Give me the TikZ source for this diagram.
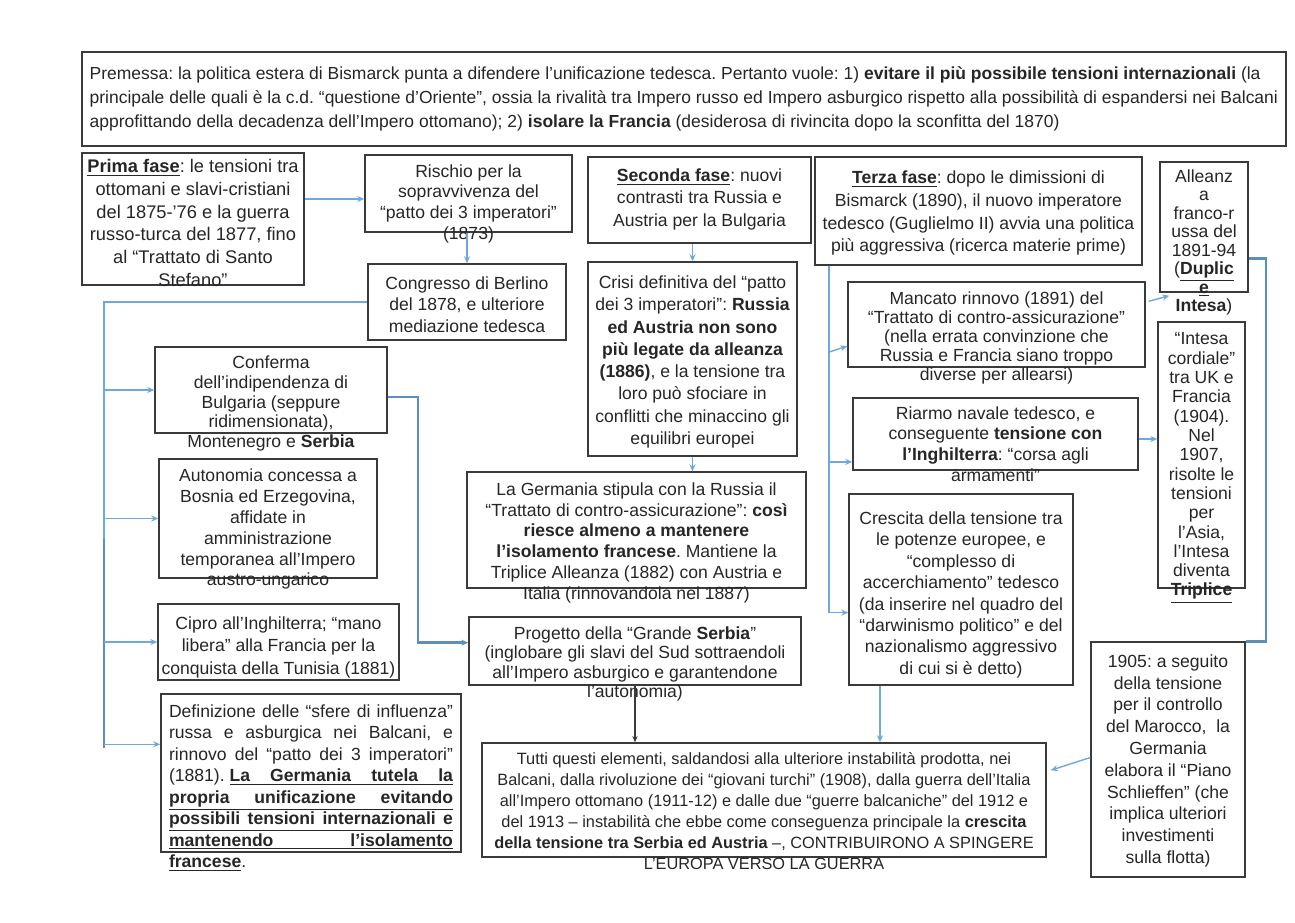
\documentclass[tikz,border=0pt]{standalone}
\usepackage{fontspec}
\setmainfont{Liberation Sans}
\frenchspacing
\usetikzlibrary{arrows.meta, positioning, calc, fit}
\definecolor{linkblue}{HTML}{6FA8DC}
\definecolor{edgegray}{HTML}{3A3A3A}
\definecolor{ink}{HTML}{262626}
\newlength{\prefw}
\newcommand{\ulbf}[1]{\underline{\textbf{#1}}}
\newcommand{\ulspread}[2]{\underline{\makebox[#1][s]{\bfseries #2}}}

\begin{document}
\begin{tikzpicture}[x=0.02cm, y=-0.02cm,
	panel/.style={draw=edgegray, line width=0.8pt, inner sep=0pt},
	txt/.style={align=center, inner sep=0pt, text=ink, font=\fontsize{10}{#1}\selectfont},
	txt/.default=12,
	link/.style={-{Stealth[length=4pt,width=3.4pt]}, draw=linkblue, line width=0.8pt},
	wire/.style={draw=linkblue, line width=0.8pt},
	heavy/.style={draw=linkblue!85!black, line width=1.5pt},
	plain/.style={-{Stealth[length=3.5pt,width=3pt]}, draw=edgegray, line width=0.6pt}
]

\fill[white] (0,0) rectangle (1295,923);

% Boxes
\node[panel, fit={(82,52) (1286,146)}] (premessa) {};
\node[panel, fit={(82,153) (304,285)}] (prima) {};
\node[panel, fit={(365,155) (572,232)}] (rischio) {};
\node[panel, fit={(368,264) (566,340)}] (congresso) {};
\node[panel, fit={(588,157) (811,243)}] (seconda) {};
\node[panel, fit={(815,157) (1142,265)}] (terza) {};
\node[panel, fit={(1160,162) (1248,292)}] (alleanza) {};
\node[panel, fit={(588,262) (797,456)}] (crisi) {};
\node[panel, fit={(848,282) (1145,367)}] (mancato) {};
\node[panel, fit={(1158,322) (1245,588)}] (intesa) {};
\node[panel, fit={(155,347) (387,433)}] (conferma) {};
\node[panel, fit={(853,398) (1138,470)}] (riarmo) {};
\node[panel, fit={(159,459) (377,578)}] (autonomia) {};
\node[panel, fit={(467,472) (806,588)}] (germania) {};
\node[panel, fit={(849,494) (1073,685)}] (crescita) {};
\node[panel, fit={(158,604) (399,680)}] (cipro) {};
\node[panel, fit={(469,617) (801,685)}] (progetto) {};
\node[panel, fit={(1091,642) (1245,877)}] (marocco) {};
\node[panel, fit={(161,694) (461,852)}] (sfere) {};
\node[panel, fit={(482,743) (1046,857)}] (tutti) {};

% Texts
\node[txt, align=left, anchor=north west, font=\fontsize{9.95}{13.6}\selectfont] (premessaT) at ($(premessa.north west)+(8,15)$)
	{Premessa: la politica estera di Bismarck punta a difendere l’unificazione tedesca. Pertanto vuole: 1) {\bfseries evitare il più possibile tensioni internazionali} (la\\
	principale delle quali è la c.d. “questione d’Oriente”, ossia la rivalità tra Impero russo ed Impero asburgico rispetto alla possibilità di espandersi nei Balcani\\
	approfittando della decadenza dell’Impero ottomano); 2) {\bfseries isolare la Francia} (desiderosa di rivincita dopo la sconfitta del 1870)};
\node[txt, anchor=north, font=\fontsize{10.4}{12.9}\selectfont] (primaT) at ($(prima.north)+(0,7)$)
	{\ulbf{Prima fase}: le tensioni tra\\ottomani e slavi-cristiani\\del 1875-’76 e la guerra\\russo-turca del 1877, fino\\al “Trattato di Santo\\Stefano”};
\node[txt=11.7, anchor=north] (rischioT) at ($(rischio.north)+(0,10)$)
	{Rischio per la\\sopravvivenza del\\“patto dei 3 imperatori”\\(1873)};
\node[txt=12.2, anchor=north] (congressoT) at ($(congresso.north)+(0,13)$)
	{Congresso di Berlino\\del 1878, e ulteriore\\mediazione tedesca};
\node[txt=12.8, anchor=north] (secondaT) at ($(seconda.north)+(0,12)$)
	{\ulbf{Seconda fase}: nuovi\\contrasti tra Russia e\\Austria per la Bulgaria};
\node[txt=13, anchor=north] (terzaT) at ($(terza.north)+(0,14)$)
	{\ulbf{Terza fase}: dopo le dimissioni di\\Bismarck (1890), il nuovo imperatore\\tedesco (Guglielmo II) avvia una politica\\più aggressiva (ricerca materie prime)};
\node[txt=10.5, anchor=north] (alleanzaT) at ($(alleanza.north)+(0,8)$)
	{Alleanz\\a\\franco-r\\ussa del\\1891-94\\(\ulbf{Duplic}\\\ulbf{e}\\{\bfseries Intesa})};
\node[txt=12.7, anchor=north] (crisiT) at ($(crisi.north)+(0,14)$)
	{Crisi definitiva del “patto\\dei 3 imperatori”: {\bfseries Russia}\\{\bfseries ed Austria non sono}\\{\bfseries più legate da alleanza}\\{\bfseries (1886)}, e la tensione tra\\loro può sfociare in\\conflitti che minaccino gli\\equilibri europei};
\node[txt=10.8, anchor=north] (mancatoT) at ($(mancato.north)+(0,10)$)
	{Mancato rinnovo (1891) del\\“Trattato di contro-assicurazione”\\(nella errata convinzione che\\Russia e Francia siano troppo\\diverse per allearsi)};
\node[txt=11, anchor=north] (intesaT) at ($(intesa.north)+(0,11)$)
	{“Intesa\\cordiale”\\tra UK e\\Francia\\(1904).\\Nel\\1907,\\risolte le\\tensioni\\per\\l’Asia,\\l’Intesa\\diventa\\\ulbf{Triplice}};
\node[txt=11.3, anchor=north] (confermaT) at ($(conferma.north)+(0,9)$)
	{Conferma\\dell’indipendenza di\\Bulgaria (seppure\\ridimensionata),\\Montenegro e {\bfseries Serbia}};
\node[txt=11.7, anchor=north] (riarmoT) at ($(riarmo.north)+(0,9)$)
	{Riarmo navale tedesco, e\\conseguente {\bfseries tensione con}\\{\bfseries l’Inghilterra}: “corsa agli\\armamenti”};
\node[txt=11.9, anchor=north] (autonomiaT) at ($(autonomia.north)+(0,10)$)
	{Autonomia concessa a\\Bosnia ed Erzegovina,\\affidate in\\amministrazione\\temporanea all’Impero\\austro-ungarico};
\node[txt=11.8, anchor=north] (germaniaT) at ($(germania.north)+(0,11)$)
	{La Germania stipula con la Russia il\\“Trattato di contro-assicurazione”: {\bfseries così}\\{\bfseries riesce almeno a mantenere}\\{\bfseries l’isolamento francese}. Mantiene la\\Triplice Alleanza (1882) con Austria e\\Italia (rinnovandola nel 1887)};
\node[txt=12.2, anchor=north] (crescitaT) at ($(crescita.north)+(0,18)$)
	{Crescita della tensione tra\\le potenze europee, e\\“complesso di\\accerchiamento” tedesco\\(da inserire nel quadro del\\“darwinismo politico” e del\\nazionalismo aggressivo\\di cui si è detto)};
\node[txt=12.7, anchor=north] (ciproT) at ($(cipro.north)+(0,13)$)
	{Cipro all’Inghilterra; “mano\\libera” alla Francia per la\\conquista della Tunisia (1881)};
\node[txt=11, anchor=north] (progettoT) at ($(progetto.north)+(0,10)$)
	{Progetto della “Grande {\bfseries Serbia}”\\(inglobare gli slavi del Sud sottraendoli\\all’Impero asburgico e garantendone\\l’autonomia)};
\node[txt=12.4, anchor=north] (maroccoT) at ($(marocco.north)+(0,13)$)
	{1905: a seguito\\della tensione\\per il controllo\\del Marocco,\ \ la\\Germania\\elabora il “Piano\\Schlieffen” (che\\implica ulteriori\\investimenti\\sulla flotta)};
\node[txt=12.2, align=left, anchor=north] (sfereT) at ($(sfere.north)+(0,11)$)
	{\makebox[5.68cm][s]{Definizione delle “sfere di influenza”}\\
	\makebox[5.68cm][s]{russa e asburgica nei Balcani, e}\\
	\makebox[5.68cm][s]{rinnovo del “patto dei 3 imperatori”}\\
	\settowidth{\prefw}{(1881).\ }(1881).\ \ulspread{\dimexpr5.68cm-\prefw\relax}{La Germania tutela la}\\
	\ulspread{5.68cm}{propria unificazione evitando}\\
	\ulspread{5.68cm}{possibili tensioni internazionali e}\\
	\ulspread{5.68cm}{mantenendo l’isolamento}\\
	\ulbf{francese}.};
\node[txt, anchor=north, font=\fontsize{9.3}{11.9}\selectfont] (tuttiT) at ($(tutti.north)+(0,10)$)
	{Tutti questi elementi, saldandosi alla ulteriore instabilità prodotta, nei\\Balcani, dalla rivoluzione dei “giovani turchi” (1908), dalla guerra dell’Italia\\all’Impero ottomano (1911-12) e dalle due “guerre balcaniche” del 1912 e\\del 1913 – instabilità che ebbe come conseguenza principale la {\bfseries crescita}\\{\bfseries della tensione tra Serbia ed Austria} –, CONTRIBUIRONO A SPINGERE\\L’EUROPA VERSO LA GUERRA};

% First phase links
\coordinate (cx) at (104,0);
\coordinate (px) at (418,0);
\coordinate (rischiopt) at ($(rischio.north west)!0.57!(rischio.south west)$);
\coordinate (confermapt) at ($(conferma.north east)!0.58!(conferma.south east)$);
\coordinate (progettopt) at ($(progetto.north west)!0.38!(progetto.south west)$);
\coordinate (sferept) at ($(sfere.north west)!0.32!(sfere.south west)$);
\draw[link] (prima.east |- rischiopt) -- (rischiopt);
\draw[link] (rischio.south -| congresso.north) -- (congresso.north);
\draw[wire] (congresso.west) -- (congresso.west -| cx) -- (cx |- sferept);
\draw[heavy] ($(cx |- autonomia.west)+(0,20)$) -- ($(cx |- sferept)+(0,4)$);
\draw[link] (cx |- conferma.west) -- (conferma.west);
\draw[link] (cx |- autonomia.west) -- (autonomia.west);
\draw[link] (cx |- cipro.west) -- (cipro.west);
\draw[link] (cx |- sferept) -- (sferept);
\draw[heavy, -{Stealth[length=4pt,width=3.4pt]}] (confermapt) -| (px |- progettopt) -- (progettopt);

% Second phase links
\draw[link] (seconda.south -| crisi.north) -- (crisi.north);
\draw[link] (crisi.south) -- (crisi.south |- germania.north);
\draw[plain] (progetto.south) -- (progetto.south |- tutti.north);

% Third phase links
\coordinate (tx) at (829,0);
\coordinate (qx) at (880,0);
\coordinate (rx) at (1266,0);
\coordinate (mancatopt) at ($(mancato.north west)!0.75!(mancato.south west)$);
\coordinate (riarmopt) at ($(riarmo.north west)!0.88!(riarmo.south west)$);
\coordinate (crescitapt) at ($(crescita.north west)!0.62!(crescita.south west)$);
\draw[wire] (terza.south -| tx) -- (tx |- crescitapt);
\draw[link] ($(tx |- mancatopt)+(0,6)$) -- (mancatopt);
\draw[link] (tx |- riarmopt) -- (riarmopt);
\draw[link] (tx |- crescitapt) -- (crescitapt);
\draw[link] ($(mancato.north east)+(3,20)$) -- ($(alleanza.south west)+(10,3)$);
\draw[link] ($(riarmo.east)+(0,5)$) -- ($(riarmo.east -| intesa.west)+(0,5)$);
\draw[heavy] ($(alleanza.north east)!0.74!(alleanza.south east)$) -| (rx |- marocco.north) -- (marocco.north east);
\draw[link] (crescita.south -| qx) -- (tutti.north -| qx);
\draw[link] ($(marocco.west)+(0,-2)$) -- ($(tutti.north east)+(4,28)$);

\end{tikzpicture}
\end{document}
